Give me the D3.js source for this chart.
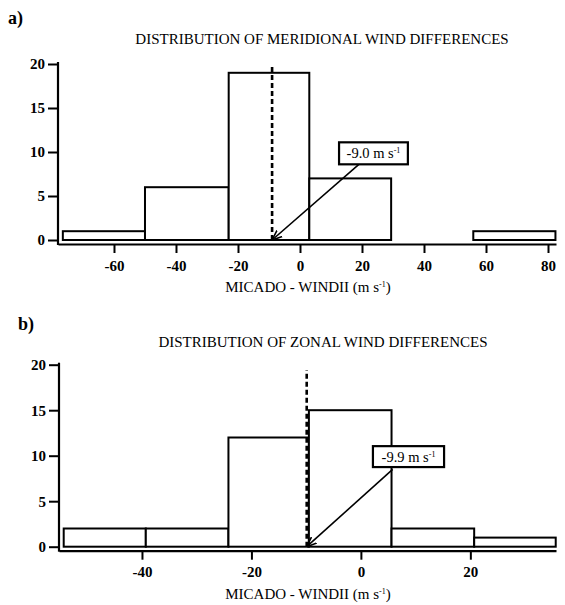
<!DOCTYPE html>
<html>
<head>
<meta charset="utf-8">
<script src="https://d3js.org/d3.v7.min.js"></script>
<style>
  body { margin: 0; background: #fff; }
  text { font-family: "Liberation Serif", "Times New Roman", serif; fill: #000; }
</style>
</head>
<body>
<div id="chart"></div>
<script>

// panel a: meridional wind differences
var merEdges  = [-76.5, -50, -23, 3, 29.4, 55.9, 82.4];
var merCounts = [1, 6, 19, 7, 0, 1];
var merTicks  = [-60, -40, -20, 0, 20, 40, 60, 80];
var merMean   = -9.0;

// panel b: zonal wind differences
var zonEdges  = [-54.3, -39.3, -24.2, -9.5, 5.6, 20.7, 35.6];
var zonCounts = [2, 2, 12, 15, 2, 1];
var zonTicks  = [-40, -20, 0, 20];
var zonMean   = -9.9;

var yTicks = [0, 5, 10, 15, 20];

// plain hyphen for negatives, like the original print
var fmt = function(v) { return String(v); };

var svg = d3.select("#chart")
  .append("svg")
  .attr("width", 565)
  .attr("height", 605);

svg.append("defs").append("marker")
  .attr("id", "arrow")
  .attr("viewBox", "0 0 10 10")
  .attr("refX", 10).attr("refY", 5)
  .attr("markerWidth", 10).attr("markerHeight", 10)
  .attr("markerUnits", "userSpaceOnUse")
  .attr("orient", "auto")
  .append("path")
  .attr("d", "M0,1 L10,5 L0,9")
  .attr("fill", "none")
  .attr("stroke", "#000")
  .attr("stroke-width", 1.6);

function panel(opt) {
  var g = svg.append("g");

  var x = d3.scaleLinear().domain(opt.xDomain).range(opt.xRange);
  var y = d3.scaleLinear().domain([0, 20]).range(opt.yRange);
  var base = y(0) + 4;

  // letter + title
  g.append("text")
    .attr("x", opt.letterX).attr("y", opt.letterY)
    .style("font-size", "18px").style("font-weight", "bold")
    .text(opt.letter);
  g.append("text")
    .attr("x", opt.titleX).attr("y", opt.titleY)
    .attr("text-anchor", "middle")
    .style("font-size", "15px")
    .text(opt.title);

  // bars
  var bins = opt.counts.map(function(c, i) {
    return { x0: opt.edges[i], x1: opt.edges[i + 1], n: c };
  }).filter(function(d) { return d.n > 0; });

  g.selectAll(".bar")
    .data(bins)
    .enter().append("rect")
    .attr("x", function(d) { return x(d.x0); })
    .attr("width", function(d) { return x(d.x1) - x(d.x0); })
    .attr("y", function(d) { return y(d.n); })
    .attr("height", function(d) { return y(0) - y(d.n); })
    .attr("fill", "#fff")
    .attr("stroke", "#000")
    .attr("stroke-width", 2);

  // axes
  var xAxis = g.append("g")
    .attr("transform", "translate(0," + base + ")")
    .call(d3.axisBottom(x).tickValues(opt.ticks).tickFormat(fmt)
      .tickSize(9).tickSizeOuter(0).tickPadding(7));
  xAxis.select(".domain").attr("stroke-width", 2.2);
  xAxis.selectAll(".tick line").attr("stroke-width", 2);
  xAxis.selectAll(".tick text")
    .style("font-family", "'Liberation Serif', serif")
    .style("font-size", "15px").style("font-weight", "bold");

  var yAxis = g.append("g")
    .attr("transform", "translate(" + opt.xRange[0] + ",0)")
    .call(d3.axisLeft(y).tickValues(yTicks).tickFormat(fmt)
      .tickSize(10).tickSizeOuter(0).tickPadding(3));
  yAxis.select(".domain").remove();
  yAxis.selectAll(".tick line").attr("stroke-width", 2);
  yAxis.selectAll(".tick text")
    .style("font-family", "'Liberation Serif', serif")
    .style("font-size", "15px").style("font-weight", "bold");
  g.append("line")
    .attr("x1", opt.xRange[0]).attr("x2", opt.xRange[0])
    .attr("y1", y(20) - 2).attr("y2", base + 1)
    .attr("stroke", "#000").attr("stroke-width", 2.2);

  // axis label
  var lab = g.append("text")
    .attr("x", opt.labelX).attr("y", opt.labelY)
    .attr("text-anchor", "middle")
    .style("font-size", "15px");
  lab.append("tspan").text("MICADO - WINDII (m s");
  lab.append("tspan").attr("dy", -5).style("font-size", "8px").text("-1");
  lab.append("tspan").attr("dy", 5).text(")");

  // mean line
  g.append("line")
    .attr("x1", x(opt.mean)).attr("x2", x(opt.mean))
    .attr("y1", y(0)).attr("y2", y(opt.meanTop))
    .attr("stroke", "#000").attr("stroke-width", 2.6)
    .attr("stroke-dasharray", "5,3");

  // annotation
  var b = opt.box;
  g.append("line")
    .attr("x1", x(b.lineX)).attr("y1", y(b.lineY))
    .attr("x2", x(opt.mean)).attr("y2", y(0))
    .attr("stroke", "#000").attr("stroke-width", 1.6)
    .attr("marker-end", "url(#arrow)");
  g.append("rect")
    .attr("x", x(b.x0)).attr("width", x(b.x1) - x(b.x0))
    .attr("y", y(b.y1)).attr("height", y(b.y0) - y(b.y1))
    .attr("fill", "#fff").attr("stroke", "#000").attr("stroke-width", 2.2);
  var t = g.append("text")
    .attr("x", (x(b.x0) + x(b.x1)) / 2)
    .attr("y", (y(b.y0) + y(b.y1)) / 2 + 5)
    .attr("text-anchor", "middle")
    .style("font-size", "14.5px");
  t.append("tspan").text(opt.mean.toFixed(1) + " m s");
  t.append("tspan").attr("dy", -5).style("font-size", "8px").text("-1");
}

panel({
  letter: "a)", letterX: 8, letterY: 24,
  title: "DISTRIBUTION OF MERIDIONAL WIND DIFFERENCES", titleX: 322, titleY: 44,
  xDomain: [-78.06, 82.58], xRange: [58, 556], yRange: [240, 64],
  edges: merEdges, counts: merCounts, ticks: merTicks, mean: merMean, meanTop: 19.7,
  labelX: 308, labelY: 292,
  box: { x0: 12.6, x1: 34.8, y0: 8.6, y1: 11.1, lineX: 19, lineY: 8.6 }
});

panel({
  letter: "b)", letterX: 18, letterY: 330,
  title: "DISTRIBUTION OF ZONAL WIND DIFFERENCES", titleX: 323, titleY: 347,
  xDomain: [-55.16, 35.65], xRange: [59, 556], yRange: [546.7, 364.7],
  edges: zonEdges, counts: zonCounts, ticks: zonTicks, mean: zonMean, meanTop: 19.4,
  labelX: 308, labelY: 599,
  box: { x0: 2.2, x1: 15.2, y0: 8.75, y1: 11.05, lineX: 5.8, lineY: 8.5 }
});

</script>
</body>
</html>
